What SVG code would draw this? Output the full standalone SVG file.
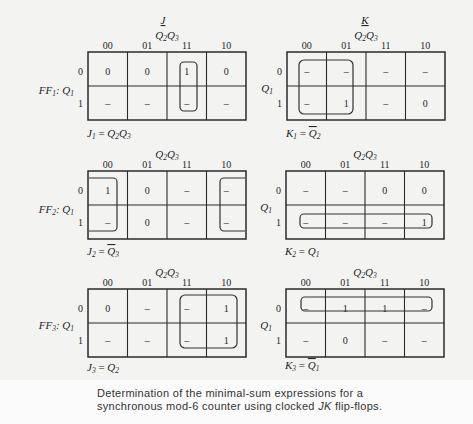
<svg xmlns="http://www.w3.org/2000/svg" width="473" height="424" viewBox="0 0 473 424">
<style>
.bg{fill:#f3f3f2}
.grid{stroke:#2b2b2b;stroke-width:1.1;fill:none}
.frame{stroke:#2b2b2b;stroke-width:1.5;fill:none}
.loop{stroke:#333;stroke-width:1.2;fill:none}
.t{font-family:"Liberation Serif","DejaVu Serif",serif;font-size:10px;fill:#262626;text-anchor:middle}
.i{font-style:italic}
.l{text-anchor:start}
.r{text-anchor:end}
.h{font-size:11px}
.cap{font-family:"Liberation Sans",Arial,sans-serif;font-size:11px;letter-spacing:0.3px;fill:#333}
.sub{font-size:7.5px}
.ov{text-decoration:overline}
</style>
<defs>
<g id="gridshape">
<rect class="frame" x="0" y="0" width="158" height="68"/>
<path class="grid" d="M39.5,0V68M79,0V68M118.5,0V68M0,34H158"/>
</g>
<g id="heads">
<text class="t" x="19.75" y="-3">00</text>
<text class="t" x="59.25" y="-3">01</text>
<text class="t" x="98.75" y="-3">11</text>
<text class="t" x="138.25" y="-3">10</text>
<text class="t r" x="-5" y="23">0</text>
<text class="t r" x="-5" y="55">1</text>
<text class="t i h" x="79" y="-13">Q<tspan class="sub" dy="2">2</tspan><tspan dy="-2">Q</tspan><tspan class="sub" dy="2">3</tspan></text>
</g>
</defs>
<rect class="bg" x="0" y="0" width="473" height="424"/>
<rect x="0" y="380" width="473" height="44" fill="#fbfbfb"/>

<text class="t i h" x="163" y="24" text-decoration="underline">J</text>
<text class="t i h" x="365" y="24" text-decoration="underline">K</text>

<g id="mapJ1" transform="translate(88,52)">
<use href="#gridshape"/><use href="#heads"/>
<text class="t i r h" x="-14" y="42">FF<tspan class="sub" dy="2">1</tspan><tspan dy="-2">:  Q</tspan><tspan class="sub" dy="2">1</tspan></text>
<text class="t" x="19.75" y="23">0</text><text class="t" x="59.25" y="23">0</text><text class="t" x="98.75" y="23">1</text><text class="t" x="138.25" y="23">0</text>
<text class="t" x="19.75" y="55">–</text><text class="t" x="59.25" y="55">–</text><text class="t" x="98.75" y="55">–</text><text class="t" x="138.25" y="55">–</text>
<rect class="loop" x="92" y="10" width="17" height="49" rx="4"/>
<text class="t i l h" x="-1" y="85">J<tspan class="sub" dy="2">1</tspan><tspan dy="-2" font-style="normal"> = </tspan>Q<tspan class="sub" dy="2">2</tspan><tspan dy="-2">Q</tspan><tspan class="sub" dy="2">3</tspan></text>
</g>

<g id="mapK1" transform="translate(287,52)">
<use href="#gridshape"/><use href="#heads"/>
<text class="t i r h" x="-14" y="40">Q<tspan class="sub" dy="2">1</tspan></text>
<text class="t" x="19.75" y="23">–</text><text class="t" x="59.25" y="23">–</text><text class="t" x="98.75" y="23">–</text><text class="t" x="138.25" y="23">–</text>
<text class="t" x="19.75" y="55">–</text><text class="t" x="59.25" y="55">1</text><text class="t" x="98.75" y="55">–</text><text class="t" x="138.25" y="55">0</text>
<rect class="loop" x="12" y="8" width="54" height="54" rx="5"/>
<text class="t i l h" x="-1" y="85">K<tspan class="sub" dy="2">1</tspan><tspan dy="-2" font-style="normal"> = </tspan><tspan class="ov">Q</tspan><tspan class="sub" dy="2">2</tspan></text>
</g>

<g id="mapJ2" transform="translate(88,171)">
<use href="#gridshape"/><use href="#heads"/>
<text class="t i r h" x="-14" y="42">FF<tspan class="sub" dy="2">2</tspan><tspan dy="-2">:  Q</tspan><tspan class="sub" dy="2">1</tspan></text>
<text class="t" x="19.75" y="23">1</text><text class="t" x="59.25" y="23">0</text><text class="t" x="98.75" y="23">–</text><text class="t" x="138.25" y="23">–</text>
<text class="t" x="19.75" y="55">–</text><text class="t" x="59.25" y="55">0</text><text class="t" x="98.75" y="55">–</text><text class="t" x="138.25" y="55">–</text>
<path class="loop" d="M1,7H25a4,4 0 0 1 4,4V56a4,4 0 0 1 -4,4H1"/>
<path class="loop" d="M157,7H136a4,4 0 0 0 -4,4V56a4,4 0 0 0 4,4H157"/>
<text class="t i l h" x="-1" y="84">J<tspan class="sub" dy="2">2</tspan><tspan dy="-2" font-style="normal"> = </tspan><tspan class="ov">Q</tspan><tspan class="sub" dy="2">3</tspan></text>
</g>

<g id="mapK2" transform="translate(286,171)">
<use href="#gridshape"/><use href="#heads"/>
<text class="t i r h" x="-14" y="40">Q<tspan class="sub" dy="2">1</tspan></text>
<text class="t" x="19.75" y="23">–</text><text class="t" x="59.25" y="23">–</text><text class="t" x="98.75" y="23">0</text><text class="t" x="138.25" y="23">0</text>
<text class="t" x="19.75" y="55">–</text><text class="t" x="59.25" y="55">–</text><text class="t" x="98.75" y="55">–</text><text class="t" x="138.25" y="55">1</text>
<rect class="loop" x="14" y="43" width="132" height="14" rx="4"/>
<text class="t i l h" x="-1" y="84">K<tspan class="sub" dy="2">2</tspan><tspan dy="-2" font-style="normal"> = </tspan>Q<tspan class="sub" dy="2">1</tspan></text>
</g>

<g id="mapJ3" transform="translate(88,289)">
<use href="#gridshape"/><use href="#heads"/>
<text class="t i r h" x="-14" y="40">FF<tspan class="sub" dy="2">3</tspan><tspan dy="-2">:  Q</tspan><tspan class="sub" dy="2">1</tspan></text>
<text class="t" x="19.75" y="23">0</text><text class="t" x="59.25" y="23">–</text><text class="t" x="98.75" y="23">–</text><text class="t" x="138.25" y="23">1</text>
<text class="t" x="19.75" y="55">–</text><text class="t" x="59.25" y="55">–</text><text class="t" x="98.75" y="55">–</text><text class="t" x="138.25" y="55">1</text>
<rect class="loop" x="92" y="6" width="57" height="53" rx="5"/>
<text class="t i l h" x="-1" y="82">J<tspan class="sub" dy="2">3</tspan><tspan dy="-2" font-style="normal"> = </tspan>Q<tspan class="sub" dy="2">2</tspan></text>
</g>

<g id="mapK3" transform="translate(286,289)">
<use href="#gridshape"/><use href="#heads"/>
<text class="t i r h" x="-14" y="40">Q<tspan class="sub" dy="2">1</tspan></text>
<text class="t" x="19.75" y="23">–</text><text class="t" x="59.25" y="23">1</text><text class="t" x="98.75" y="23">1</text><text class="t" x="138.25" y="23">–</text>
<text class="t" x="19.75" y="55">–</text><text class="t" x="59.25" y="55">0</text><text class="t" x="98.75" y="55">–</text><text class="t" x="138.25" y="55">–</text>
<rect class="loop" x="15" y="8" width="131" height="14" rx="4"/>
<text class="t i l h" x="-1" y="80">K<tspan class="sub" dy="2">3</tspan><tspan dy="-2" font-style="normal"> = </tspan><tspan class="ov">Q</tspan><tspan class="sub" dy="2">1</tspan></text>
</g>

<g id="connectors"/>

<g id="caption">
<text class="cap" x="97" y="397">Determination of the minimal-sum expressions for a</text>
<text class="cap" x="97" y="410">synchronous mod-6 counter using clocked <tspan font-style="italic">JK</tspan> flip-flops.</text>
</g>
</svg>
